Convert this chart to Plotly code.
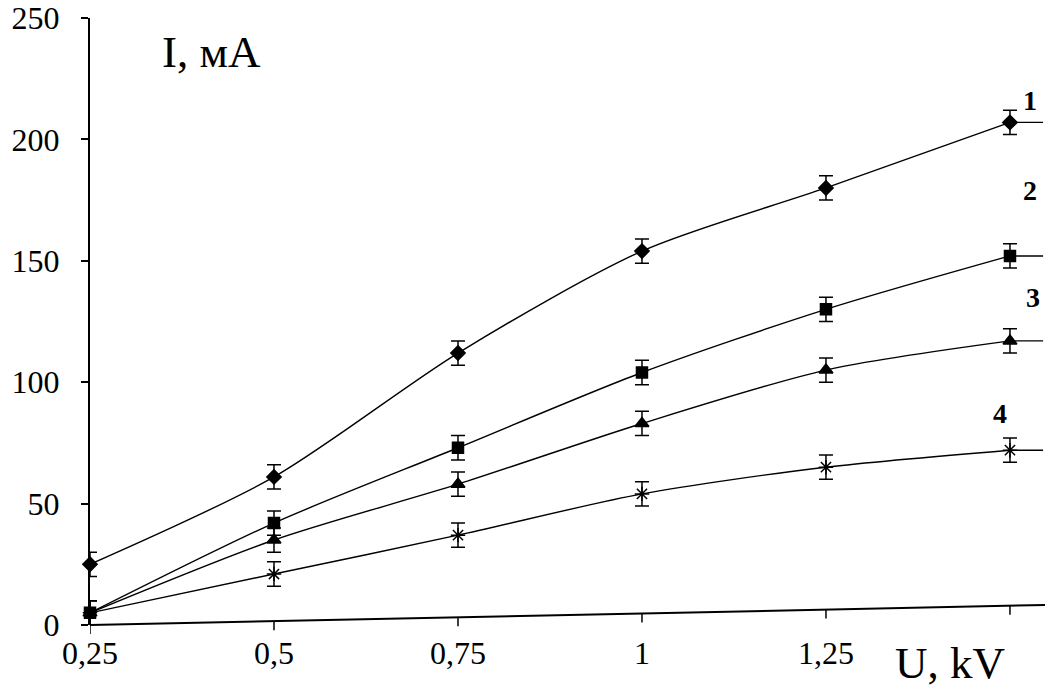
import plotly.graph_objects as go

# ---- data ----
voltage = [0.25, 0.5, 0.75, 1.0, 1.25, 1.5]
tick_text = ["0,25", "0,5", "0,75", "1", "1,25", ""]
curve1 = [25, 61, 112, 154, 180, 207]
curve2 = [5, 42, 73, 104, 130, 152]
curve3 = [5, 35, 58, 83, 105, 117]
curve4 = [5, 21, 37, 54, 65, 72]
err = [5, 5, 5, 5, 5, 5]
tail = [0, 0, 0, 0, 0, 0.045]
curve_labels = ["1", "2", "3", "4"]
label_x = [1.527, 1.527, 1.531, 1.486]
label_y = [216, 179, 135, 87]
y_ticks = [0, 50, 100, 150, 200, 250]

FONT = "Liberation Serif"
W, H = 1049, 689
ML, MR, MT, MB = 90, 4, 18, 64
XR = [0.25, 1.5476]
YR = [0, 250]
plot_h = H - MT - MB

fig = go.Figure()
series = [(curve1, "diamond", 11), (curve2, "square", 11),
          (curve3, "triangle-up", 12), (curve4, "asterisk-open", 12)]
for ys, sym, sz in series:
    fig.add_trace(go.Scatter(
        x=voltage, y=ys, mode="lines+markers",
        line=dict(color="black", width=1.4, shape="spline", smoothing=0.8),
        marker=dict(symbol=sym, size=sz, color="black",
                    line=dict(color="black", width=1.5)),
        error_y=dict(type="data", array=err, color="black", thickness=1.5, width=7),
        error_x=dict(type="data", symmetric=False, array=tail,
                     arrayminus=[0] * len(tail), color="black", thickness=1.4, width=0),
        cliponaxis=False, showlegend=False, hoverinfo="skip"))

# slanted baseline (as in the scanned original)
rise = 20 / plot_h
slope = rise / (XR[1] - XR[0])
fig.add_shape(type="line", xref="x", yref="paper", x0=0.24, x1=XR[1],
              y0=-slope * 0.01, y1=rise, line=dict(color="black", width=2))
for t in voltage:
    yl = slope * (t - XR[0])
    top = yl + (8 / plot_h if t == voltage[0] else 0)
    fig.add_shape(type="line", xref="x", yref="paper", x0=t, x1=t,
                  y0=yl - 9 / plot_h, y1=top, line=dict(color="black", width=1.5))

for txt, lx, ly in zip(curve_labels, label_x, label_y):
    fig.add_annotation(x=lx, y=ly, text="<b>" + txt + "</b>", showarrow=False,
                       xanchor="center", yanchor="middle",
                       font=dict(family=FONT, size=28, color="black"))

fig.add_annotation(xref="paper", yref="paper", x=0.127, y=0.944, text="I, мА",
                   xanchor="center", yanchor="middle", showarrow=False,
                   font=dict(family=FONT, size=45, color="black"))
fig.add_annotation(xref="paper", yref="paper", x=0.9005, y=-0.0626, text="U, kV",
                   xanchor="center", yanchor="middle", showarrow=False,
                   font=dict(family=FONT, size=45, color="black"))

fig.update_layout(
    width=W, height=H, margin=dict(l=ML, r=MR, t=MT, b=MB, autoexpand=False),
    paper_bgcolor="white", plot_bgcolor="white",
    font=dict(family=FONT, color="black"),
    xaxis=dict(range=XR, tickvals=voltage, ticktext=tick_text, showgrid=False,
               zeroline=False, showline=False, ticks="", automargin=False,
               tickfont=dict(family=FONT, size=32, color="black"),
               ticklabelstandoff=6),
    yaxis=dict(range=YR, tickvals=y_ticks, showgrid=False, zeroline=False,
               showline=True, linecolor="black", linewidth=2, automargin=False,
               ticks="outside", ticklen=7, tickwidth=1.5, tickcolor="black",
               tickfont=dict(family=FONT, size=32, color="black"),
               ticklabelstandoff=15),
)

fig.write_html("out.html", config={"displayModeBar": False},
               post_script="document.body.style.margin='0';document.body.style.overflow='hidden';")
